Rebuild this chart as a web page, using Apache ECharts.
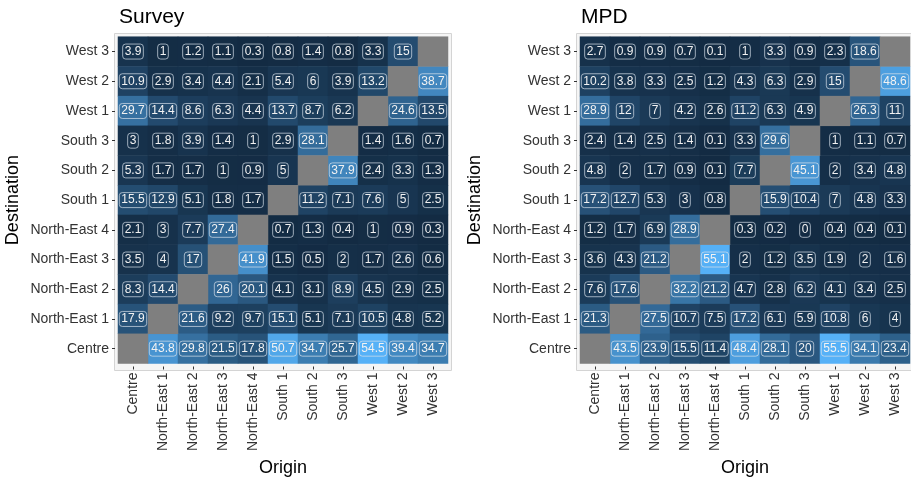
<!DOCTYPE html>
<html><head><meta charset="utf-8">
<script src="https://cdn.jsdelivr.net/npm/echarts@6/dist/echarts.min.js"></script>
<style>html,body{margin:0;padding:0;background:#fff}#c{width:911px;height:482px}</style>
</head><body><div id="c"></div>
<script>
const categories = ['Centre','North-East 1','North-East 2','North-East 3','North-East 4','South 1','South 2','South 3','West 1','West 2','West 3'];
// rows listed top (West 3) to bottom (Centre); columns follow categories (origin)
const surveyRows = [
  [3.9,1,1.2,1.1,0.3,0.8,1.4,0.8,3.3,15,null],
  [10.9,2.9,3.4,4.4,2.1,5.4,6,3.9,13.2,null,38.7],
  [29.7,14.4,8.6,6.3,4.4,13.7,8.7,6.2,null,24.6,13.5],
  [3,1.8,3.9,1.4,1,2.9,28.1,null,1.4,1.6,0.7],
  [5.3,1.7,1.7,1,0.9,5,null,37.9,2.4,3.3,1.3],
  [15.5,12.9,5.1,1.8,1.7,null,11.2,7.1,7.6,5,2.5],
  [2.1,3,7.7,27.4,null,0.7,1.3,0.4,1,0.9,0.3],
  [3.5,4,17,null,41.9,1.5,0.5,2,1.7,2.6,0.6],
  [8.3,14.4,null,26,20.1,4.1,3.1,8.9,4.5,2.9,2.5],
  [17.9,null,21.6,9.2,9.7,15.1,5.1,7.1,10.5,4.8,5.2],
  [null,43.8,29.8,21.5,17.8,50.7,34.7,25.7,54.5,39.4,34.7]
];
const mpdRows = [
  [2.7,0.9,0.9,0.7,0.1,1,3.3,0.9,2.3,18.6,null],
  [10.2,3.8,3.3,2.5,1.2,4.3,6.3,2.9,15,null,48.6],
  [28.9,12,7,4.2,2.6,11.2,6.3,4.9,null,26.3,11],
  [2.4,1.4,2.5,1.4,0.1,3.3,29.6,null,1,1.1,0.7],
  [4.8,2,1.7,0.9,0.1,7.7,null,45.1,2,3.4,4.8],
  [17.2,12.7,5.3,3,0.8,null,15.9,10.4,7,4.8,3.3],
  [1.2,1.7,6.9,28.9,null,0.3,0.2,0,0.4,0.4,0.1],
  [3.6,4.3,21.2,null,55.1,2,1.2,3.5,1.9,2,1.6],
  [7.6,17.6,null,32.2,21.2,4.7,2.8,6.2,4.1,3.4,2.5],
  [21.3,null,27.5,10.7,7.5,17.2,6.1,5.9,10.8,6,4],
  [null,43.5,23.9,15.5,11.4,48.4,28.1,20,55.5,34.1,23.4]
];
const panelTitles = ['Survey','MPD'];

// Lab interpolation like ggplot's default gradient
function hex2rgb(h){return [1,3,5].map(i=>parseInt(h.substr(i,2),16));}
function lin(c){c/=255;return c<=0.04045?c/12.92:Math.pow((c+0.055)/1.055,2.4);}
function delin(c){c=c<=0.0031308?12.92*c:1.055*Math.pow(c,1/2.4)-0.055;return Math.max(0,Math.min(255,Math.round(c*255)));}
const W=[0.95047,1,1.08883];
function rgb2lab(rgb){const [r,g,b]=rgb.map(lin);
  const X=(0.4124*r+0.3576*g+0.1805*b)/W[0],Y=(0.2126*r+0.7152*g+0.0722*b)/W[1],Z=(0.0193*r+0.1192*g+0.9505*b)/W[2];
  const f=t=>t>0.008856?Math.cbrt(t):7.787*t+16/116;
  const fx=f(X),fy=f(Y),fz=f(Z);return [116*fy-16,500*(fx-fy),200*(fy-fz)];}
function lab2rgb(lab){const fy=(lab[0]+16)/116,fx=fy+lab[1]/500,fz=fy-lab[2]/200;
  const fi=t=>t*t*t>0.008856?t*t*t:(t-16/116)/7.787;
  const X=fi(fx)*W[0],Y=fi(fy)*W[1],Z=fi(fz)*W[2];
  const r=3.2406*X-1.5372*Y-0.4986*Z,g=-0.9689*X+1.8758*Y+0.0415*Z,b=0.0557*X-0.2040*Y+1.0570*Z;
  return 'rgb('+[r,g,b].map(delin).join(',')+')';}
const lowLab=rgb2lab(hex2rgb('#132B43')),highLab=rgb2lab(hex2rgb('#56B1F7'));
const ramp=[];for(let i=0;i<=20;i++){const t=i/20;ramp.push(lab2rgb(lowLab.map((v,k)=>v+(highLab[k]-v)*t)));}

function toData(rows){const vals=[],na=[];const n=categories.length;
  rows.forEach((row,ri)=>{const y=n-1-ri;row.forEach((v,x)=>{if(v===null)na.push([x,y,0]);else vals.push([x,y,v]);});});
  return {vals,na};}
const panels=[toData(surveyRows),toData(mpdRows)];
const gridLefts=[118,580];
const font='Liberation Sans, Arial, sans-serif';

const option={animation:false,
  title:panelTitles.map((t,i)=>({text:t,left:gridLefts[i]-4,top:2,textStyle:{fontSize:21,fontWeight:'normal',color:'#000',fontFamily:font}})),
  graphic:gridLefts.map(l=>({type:'rect',z:-10,shape:{x:l-3.5,y:33.5,width:337,height:337},style:{fill:'#f5f5f5',stroke:'#d4d4d4',lineWidth:1}})),
  grid:gridLefts.map(l=>({left:l,top:36.7,width:330,height:330})),
  xAxis:gridLefts.map((l,i)=>({type:'category',gridIndex:i,data:categories,offset:3,
    axisLine:{show:false},axisTick:{show:true,alignWithLabel:true,length:3,lineStyle:{color:'#333'}},
    axisLabel:{rotate:90,fontSize:14,color:'#333',fontFamily:font,margin:6},splitLine:{show:false},
    name:'Origin',nameLocation:'middle',nameGap:88,nameTextStyle:{fontSize:18,color:'#000',fontFamily:font}})),
  yAxis:gridLefts.map((l,i)=>({type:'category',gridIndex:i,data:categories,offset:3,
    axisLine:{show:false},axisTick:{show:true,alignWithLabel:true,length:3,lineStyle:{color:'#333'}},
    axisLabel:{fontSize:14,color:'#333',fontFamily:font,margin:6},splitLine:{show:false},
    name:'Destination',nameLocation:'middle',nameGap:93,nameTextStyle:{fontSize:18,color:'#000',fontFamily:font}})),
  visualMap:panels.map((p,i)=>{const v=p.vals.map(d=>d[2]);return {show:false,type:'continuous',seriesIndex:i,dimension:2,
    min:Math.min(...v),max:Math.max(...v),inRange:{color:ramp}};}),
  series:[]
};
panels.forEach((p,i)=>{
  option.series.push({type:'heatmap',xAxisIndex:i,yAxisIndex:i,data:p.vals,
    label:{show:true,formatter:d=>String(d.value[2]),fontSize:12,color:'#f2f2f2',fontFamily:font,
      borderColor:'rgba(215,225,235,0.7)',borderWidth:1,borderRadius:3,padding:[2,2,1,2],lineHeight:12}});
});
panels.forEach((p,i)=>{
  option.series.push({type:'heatmap',xAxisIndex:i,yAxisIndex:i,data:p.na,itemStyle:{color:'#7f7f7f'},label:{show:false}});
});
const chart=echarts.init(document.getElementById('c'),null,{renderer:'canvas'});
chart.setOption(option);
</script></body></html>
